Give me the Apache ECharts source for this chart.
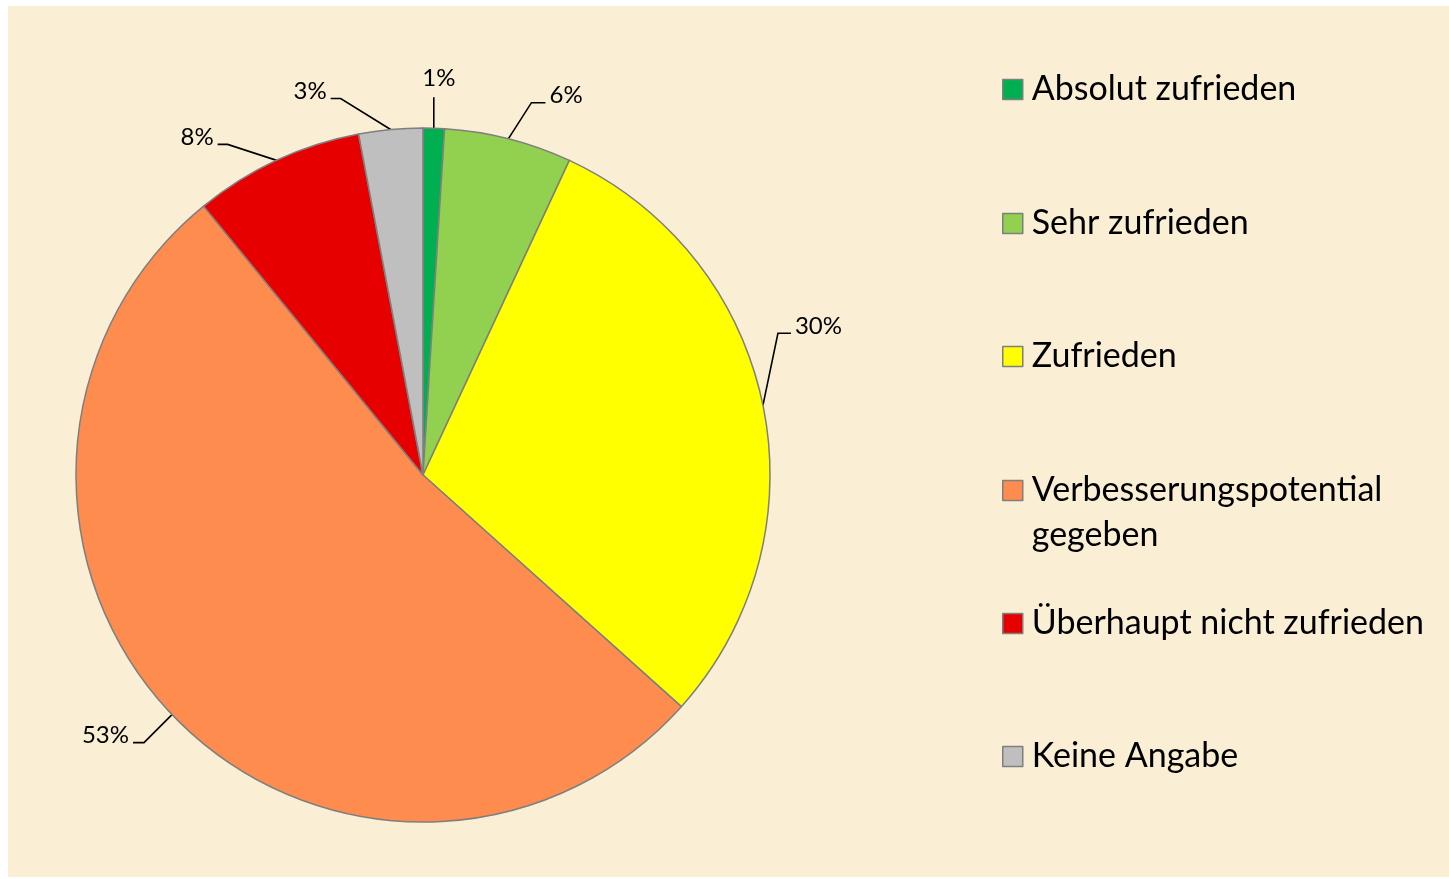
<!DOCTYPE html>
<html>
<head>
<meta charset="utf-8">
<script src="https://cdn.jsdelivr.net/npm/echarts@6/dist/echarts.min.js"></script>
<style>
html,body{margin:0;padding:0;background:#ffffff;width:1449px;height:879px;overflow:hidden;}
#chart{position:absolute;left:8px;top:6px;width:1441px;height:871px;}
</style>
</head>
<body>
<div id="chart"></div>
<script>
const categories = ['Absolut zufrieden', 'Sehr zufrieden', 'Zufrieden', 'Verbesserungspotential\ngegeben', 'Überhaupt nicht zufrieden', 'Keine Angabe'];
const values = [1, 6, 30, 53, 8, 3];
const colors = ['#00b050', '#92d050', '#ffff00', '#ff8c4f', '#e60000', '#bfbfbf'];
const legendTops = [56, 190, 323, 457, 590, 723];
// leader line: first segment vector and horizontal segment length
const leader = [[0, -31, 0], [23, -36, 14], [15, -72, 13], [-28, 28, 11], [-49, -16, 10], [-50, -31, 10]];

const chart = echarts.init(document.getElementById('chart'));
const font = 'Lato, "Open Sans", sans-serif';

const legends = categories.map((c, i) => ({
  data: [i === 3 ? { name: c, icon: 'path://M0,0H20V20H0Z M0,65' } : { name: c, icon: 'rect' }],
  orient: 'vertical',
  left: 989,
  top: legendTops[i],
  itemWidth: 20,
  itemHeight: i === 3 ? 65 : 20,
  itemGap: 0,
  selectedMode: false,
  itemStyle: { borderColor: '#7f7f7f', borderWidth: 1.5 },
  textStyle: {
    fontFamily: font, fontSize: 34, color: '#000', lineHeight: 45,
    padding: [0, 0, 0, 4]
  }
}));

chart.setOption({
  backgroundColor: '#faefd5',
  animation: false,
  legend: legends,
  series: [{
    type: 'pie',
    center: [415, 469],
    radius: 347,
    startAngle: 90,
    clockwise: true,
    avoidLabelOverlap: false,
    data: categories.map((c, i) => ({
      name: c,
      value: values[i],
      itemStyle: { color: colors[i] }
    })),
    itemStyle: { borderColor: '#7f7f7f', borderWidth: 1.5 },
    label: {
      show: true,
      position: 'outside',
      formatter: '{c}%',
      fontFamily: font,
      fontSize: 24,
      color: '#000'
    },
    labelLine: {
      show: true,
      length: 30,
      length2: 10,
      lineStyle: { color: '#000', width: 1.6 }
    },
    labelLayout: function (params) {
      const pts = params.labelLinePoints;
      if (!pts || !pts.length) return {};
      const i = params.dataIndex;
      const p0 = pts[0];
      const v = leader[i];
      const right = v[0] >= 0;
      const p1 = [p0[0] + v[0], p0[1] + v[1]];
      const p2 = [p1[0] + (right ? v[2] : -v[2]), p1[1]];
      if (v[2] === 0) {
        return {
          x: p2[0] + 5, y: p2[1] - 7, align: 'center', verticalAlign: 'bottom',
          labelLinePoints: [p0, p1, p2]
        };
      }
      return {
        x: p2[0] + (right ? 4 : -4), y: p2[1] - 7,
        align: right ? 'left' : 'right', verticalAlign: 'middle',
        labelLinePoints: [p0, p1, p2]
      };
    },
    emphasis: { disabled: true }
  }]
});
</script>
</body>
</html>
